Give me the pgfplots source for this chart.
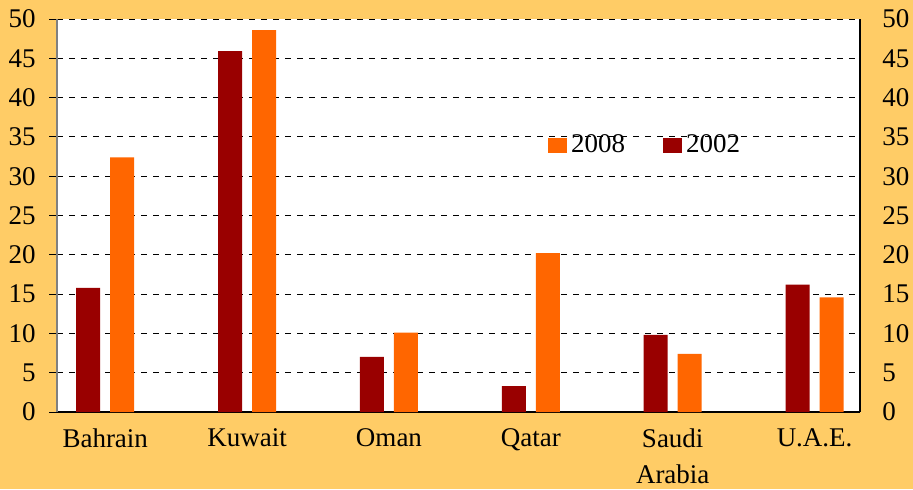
\documentclass[border=0pt]{standalone}
\usepackage{pgfplots}
\pgfplotsset{compat=1.18}
\usepackage{fontspec}
\setmainfont{Liberation Serif}
\definecolor{bg}{HTML}{FFCC66}
\definecolor{dred}{HTML}{990000}
\definecolor{org}{HTML}{FF6600}
\pgfplotsset{
  /pgf/number format/assume math mode=true,
  tick label style={font=\fontsize{13.5}{17.5}\selectfont},
}
\begin{document}
\fontsize{13.5}{17.5}\selectfont
\begin{tikzpicture}[x=1pt,y=1pt]
\path[use as bounding box, fill=bg] (-28.5,-38.5) rectangle (428,206);
\begin{axis}[at={(0,0)}, anchor=south west, width=401.5pt, height=196.5pt, scale only axis,
  xmin=-0.34, xmax=5.32, ymin=0, ymax=50,
  ytick={0,5,...,50},
  xtick={0,1,2,3,4,5},
  xticklabels={Bahrain,Kuwait,Oman,Qatar,{Saudi\\Arabia},U.A.E.},
  xticklabel style={align=center, yshift=0.5pt, font=\fontsize{13.5}{18}\selectfont},
  yticklabel style={xshift=-2pt},
  major x tick style={draw=none},
  ytick style={black, line width=0.5pt},
  tick align=outside, major tick length=4pt,
  axis background/.style={fill=white},
  ymajorgrids, grid style={black, line width=0.5pt, dash pattern=on 3pt off 3pt},
  axis x line*=bottom, axis y line*=left,
  x axis line style={black, line width=1pt, -},
  y axis line style={gray, line width=0.7pt, -},
  ybar, bar width=12pt,
  legend columns=2,
  legend style={draw=none, fill=none, at={(0.611,0.679)}, anchor=west, inner sep=0pt,
    font=\fontsize{13.5}{17.5}\selectfont,
    /tikz/every even column/.append style={column sep=17pt}},
  legend image code/.code={\fill[#1] (0pt,-3.75pt) rectangle (9.5pt,3.75pt);},
]
\addplot[fill=org, draw=none, bar shift=8.5pt] coordinates {(0,32.4) (1,48.6) (2,10.1) (3,20.2) (4,7.4) (5,14.6)};
\addlegendentry{2008}
\addplot[fill=dred, draw=none, bar shift=-8.5pt] coordinates {(0,15.8) (1,45.9) (2,7.0) (3,3.3) (4,9.8) (5,16.2)};
\addlegendentry{2002}
\end{axis}
\begin{axis}[at={(0,0)}, anchor=south west, width=401.5pt, height=196.5pt, scale only axis,
  xmin=-0.34, xmax=5.32, ymin=0, ymax=50,
  ytick={0,5,...,50},
  axis x line=none, axis y line*=right,
  y axis line style={black, line width=0.75pt, -},
  major tick length=0pt,
  yticklabel style={xshift=6.5pt},
]
\end{axis}
\end{tikzpicture}
\end{document}
